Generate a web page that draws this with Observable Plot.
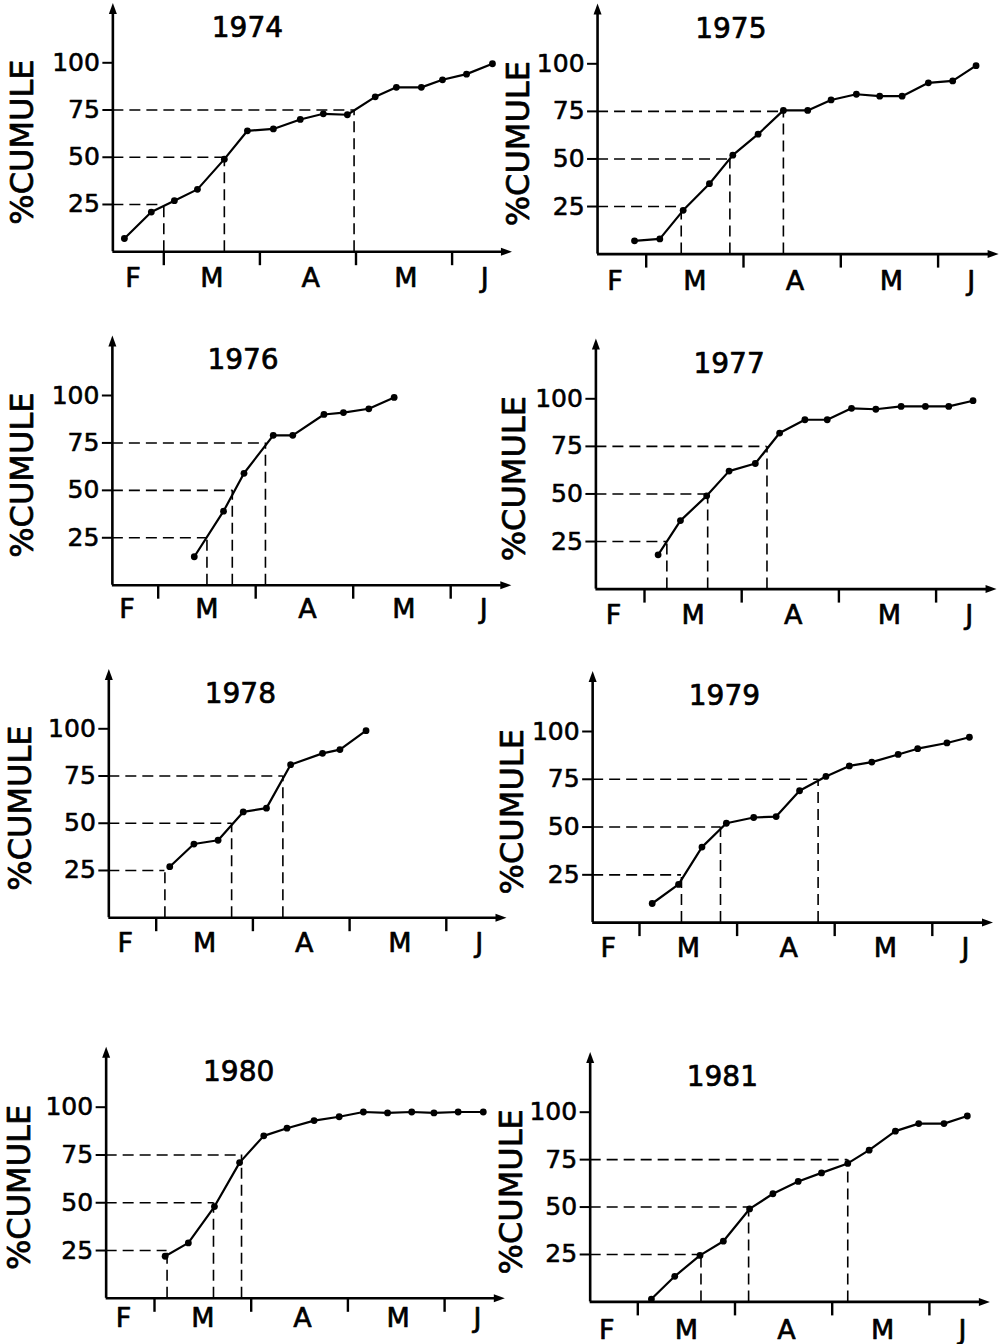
<!DOCTYPE html>
<html>
<head>
<meta charset="utf-8">
<script src="https://cdn.jsdelivr.net/npm/d3@7"></script>
<script src="https://cdn.jsdelivr.net/npm/@observablehq/plot@0.6"></script>
<style>
  html, body { margin: 0; padding: 0; background: #fff; }
  #root { position: relative; width: 1003px; height: 1344px; background: #fff; overflow: hidden; }
</style>
</head>
<body>
<div id="root"></div>
<script>
// ---------- DATA (x in months: 1 = start of March, 2 = April, ...) ----------
const years = [1974, 1975, 1976, 1977, 1978, 1979, 1980, 1981];

const x1974 = [0.59, 0.87, 1.11, 1.35, 1.63, 1.87, 2.14, 2.42, 2.66, 2.91, 3.20, 3.42, 3.68, 3.90, 4.15, 4.42];
const y1974 = [7, 21, 27, 33, 49, 64, 65, 70, 73, 72.5, 82, 87, 87, 91, 94, 99.5];
const q1974 = [1.00, 1.63, 2.98];

const x1975 = [0.88, 1.14, 1.38, 1.65, 1.89, 2.15, 2.41, 2.66, 2.90, 3.16, 3.40, 3.63, 3.90, 4.15, 4.39];
const y1975 = [7, 8, 23, 37, 52, 63, 75.5, 75.5, 81, 84, 83, 83, 90, 91, 99];
const q1975 = [1.36, 1.86, 2.41];

const x1976 = [1.37, 1.67, 1.88, 2.18, 2.38, 2.70, 2.90, 3.16, 3.42];
const y1976 = [15, 39, 59, 79, 79, 90, 91, 93, 99];
const q1976 = [1.50, 1.76, 2.10];

const x1977 = [1.14, 1.37, 1.64, 1.87, 2.14, 2.39, 2.65, 2.88, 3.13, 3.38, 3.64, 3.89, 4.13, 4.38];
const y1977 = [18, 36, 49, 62, 66, 82, 89, 89, 95, 94.5, 96, 96, 96, 99];
const q1977 = [1.23, 1.65, 2.26];

const x1978 = [1.14, 1.39, 1.64, 1.90, 2.14, 2.39, 2.72, 2.90, 3.17];
const y1978 = [27, 39, 41, 56, 58, 81, 87, 89, 99];
const q1978 = [1.09, 1.78, 2.31];

const x1979 = [1.13, 1.40, 1.64, 1.89, 2.17, 2.40, 2.64, 2.91, 3.15, 3.38, 3.65, 3.85, 4.15, 4.38];
const y1979 = [10, 20, 39.5, 52, 55, 55.5, 69, 76.5, 82, 84, 88, 91, 94, 97];
const q1979 = [1.43, 1.83, 2.83];

const x1980 = [1.11, 1.35, 1.62, 1.88, 2.13, 2.37, 2.65, 2.91, 3.16, 3.41, 3.66, 3.89, 4.14, 4.40];
const y1980 = [22, 29, 48, 71, 85, 89, 93, 95, 97.5, 97, 97.5, 97, 97.5, 97.5];
const q1980 = [1.13, 1.61, 1.90];

const x1981 = [1.14, 1.38, 1.64, 1.88, 2.15, 2.39, 2.65, 2.89, 3.16, 3.38, 3.65, 3.89, 4.15, 4.39];
const y1981 = [1.5, 13.5, 24.5, 32, 49, 57, 63.5, 68, 73, 80, 90, 94, 94, 98];
const q1981 = [1.65, 2.14, 3.16];

const quartileLevels = [25, 50, 75];
const yTicks = [25, 50, 75, 100];
const monthBounds = [1, 2, 3, 4];
const monthLabels = ["F", "M", "A", "M", "J"];
const monthLabelPos = [0.68, 1.5, 2.53, 3.52, 4.34];
const yLabel = "%CUMULE";

const seriesX = {1974: x1974, 1975: x1975, 1976: x1976, 1977: x1977, 1978: x1978, 1979: x1979, 1980: x1980, 1981: x1981};
const seriesY = {1974: y1974, 1975: y1975, 1976: y1976, 1977: y1977, 1978: y1978, 1979: y1979, 1980: y1980, 1981: y1981};
const seriesQ = {1974: q1974, 1975: q1975, 1976: q1976, 1977: q1977, 1978: q1978, 1979: q1979, 1980: q1980, 1981: q1981};

// ---------- LAYOUT (pixels) ----------
const layout = [
  {year: 1974, left: 0,   top: 0,    w: 500, h: 330, mar: 163.3, mw: 96.1, y0: 251.2, y100: 62.3, xs: 0.47, ldx: -90, mdy: 27},
  {year: 1975, left: 500, top: 0,    w: 503, h: 330, mar: 145.7, mw: 97.3, y0: 253.6, y100: 63.3, xs: 0.50, ldx: -79, mdy: 27},
  {year: 1976, left: 0,   top: 330,  w: 500, h: 335, mar: 157.7, mw: 97.5, y0: 254.7, y100: 65.0, xs: 0.53, ldx: -90, mdy: 24},
  {year: 1977, left: 500, top: 330,  w: 503, h: 335, mar: 144.0, mw: 97.2, y0: 258.6, y100: 68.3, xs: 0.50, ldx: -81, mdy: 26},
  {year: 1978, left: 0,   top: 665,  w: 500, h: 375, mar: 155.7, mw: 96.7, y0: 252.2, y100: 63.3, xs: 0.51, ldx: -88, mdy: 26},
  {year: 1979, left: 500, top: 665,  w: 503, h: 375, mar: 139.0, mw: 97.6, y0: 257.1, y100: 66.0, xs: 0.52, ldx: -80, mdy: 26},
  {year: 1980, left: 0,   top: 1040, w: 500, h: 304, mar: 154.0, mw: 96.7, y0: 257.8, y100: 66.7, xs: 0.50, ldx: -86, mdy: 20},
  {year: 1981, left: 500, top: 1040, w: 503, h: 304, mar: 137.3, mw: 97.2, y0: 261.4, y100: 71.7, xs: 0.51, ldx: -78, mdy: 28}
];

const arrowUp = {draw(ctx) { ctx.moveTo(0, -7); ctx.lineTo(4, 4); ctx.lineTo(-4, 4); ctx.closePath(); }};
const arrowRight = {draw(ctx) { ctx.moveTo(7, 0); ctx.lineTo(-4, 4); ctx.lineTo(-4, -4); ctx.closePath(); }};

const FONT = "'DejaVu Sans', 'Liberation Sans', Arial, sans-serif";
const X_END = 4.55;
const Y_TOP = 128;
const TXT = {fill: "black", stroke: "black", strokeWidth: 0.7};

function panel(L) {
  const xsArr = seriesX[L.year], ysArr = seriesY[L.year], qsArr = seriesQ[L.year];
  const pts = xsArr.map((x, i) => ({x, y: ysArr[i]}));
  const quart = quartileLevels.map((q, i) => ({q, d: qsArr[i]}));
  const months = monthLabels.map((label, i) => ({label, pos: monthLabelPos[i]}));
  const axisPx = L.mar + (L.xs - 1) * L.mw;
  const svg = Plot.plot({
    width: L.w,
    height: L.h,
    marginLeft: axisPx,
    marginRight: 0,
    marginTop: 0,
    marginBottom: L.h - L.y0,
    x: {domain: [1, 4], range: [L.mar, L.mar + 3 * L.mw], label: null},
    y: {domain: [0, 100], range: [L.y0, L.y100], label: null},
    style: {fontFamily: FONT, background: "transparent", overflow: "visible", color: "black"},
    marks: [
      // dashed quartile guides
      Plot.ruleY(quart, {y: "q", x1: L.xs, x2: "d", stroke: "black", strokeWidth: 1.6, strokeDasharray: "11,6"}),
      Plot.ruleX(quart, {x: "d", y1: 0, y2: "q", stroke: "black", strokeWidth: 1.6, strokeDasharray: "11,6"}),
      // axes lines
      Plot.ruleX([L.xs], {y1: 0, y2: Y_TOP - 2, stroke: "black", strokeWidth: 2.6}),
      Plot.ruleY([0], {x1: L.xs, x2: X_END - 0.03, stroke: "black", strokeWidth: 2.6}),
      Plot.dot([0], {x: L.xs, y: Y_TOP, symbol: arrowUp, fill: "black", stroke: null}),
      Plot.dot([0], {x: X_END, y: 0, symbol: arrowRight, fill: "black", stroke: null}),
      // y ticks and labels
      Plot.axisY(yTicks, {anchor: "left", tickSize: 10, tickPadding: 3, fontSize: 25, strokeWidth: 2,
        textStroke: "black", textStrokeWidth: 0.6, label: null, tickFormat: d => String(d)}),
      // month boundary ticks
      Plot.axisX(monthBounds, {anchor: "bottom", tickSize: 14, strokeWidth: 2.4, label: null, tickFormat: () => ""}),
      // month labels
      Plot.text(months, {x: "pos", y: 0, text: "label", dy: L.mdy, fontSize: 27, ...TXT}),
      // data
      Plot.line(pts, {x: "x", y: "y", stroke: "black", strokeWidth: 2.2}),
      Plot.dot(pts, {x: "x", y: "y", r: 3.4, fill: "black", stroke: null}),
      // title
      Plot.text([L.year], {x: 1.87, y: 118.5, text: d => String(d), fontSize: 28, ...TXT}),
      // y label
      Plot.text([yLabel], {x: L.xs, y: 58, text: d => d, dx: L.ldx, rotate: -90, fontSize: 32, ...TXT})
    ]
  });
  svg.style.position = "absolute";
  svg.style.left = L.left + "px";
  svg.style.top = L.top + "px";
  return svg;
}

const root = document.getElementById("root");
for (const L of layout) root.appendChild(panel(L));
</script>
</body>
</html>
